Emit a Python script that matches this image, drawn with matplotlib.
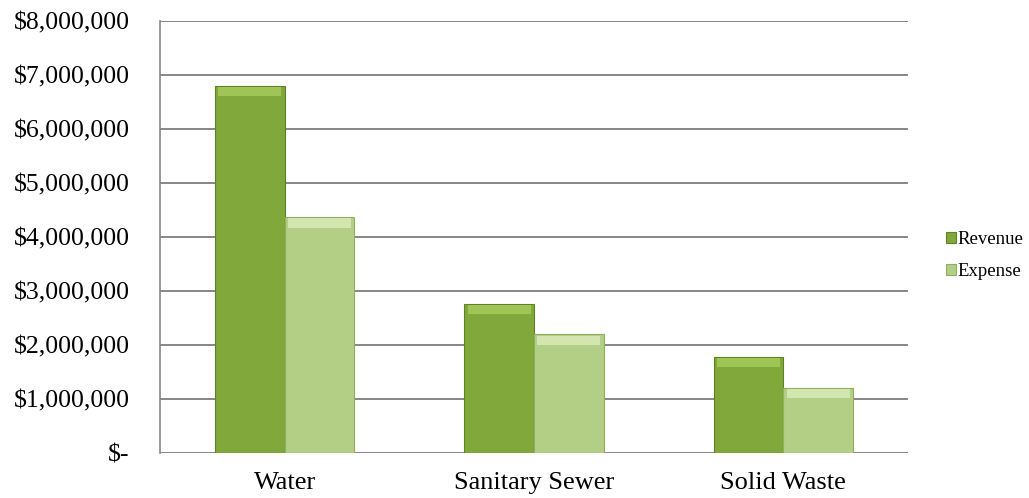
import numpy as np
import matplotlib.pyplot as plt
from matplotlib.ticker import FuncFormatter

# Revenue vs expense by utility fund
categories = ["Water", "Sanitary Sewer", "Solid Waste"]
revenue = [6790000, 2760000, 1780000]
expense = [4360000, 2190000, 1200000]
yticks = [0, 1000000, 2000000, 3000000, 4000000, 5000000, 6000000, 7000000, 8000000]

plt.rcParams['font.family'] = ['Liberation Serif', 'DejaVu Serif']

fig = plt.figure(figsize=(10.29, 4.98), dpi=100)
ax = fig.add_axes([0.1555, 0.091, 0.7269, 0.867])

x = np.arange(len(categories))
w = 0.28
b1 = ax.bar(x - w / 2, revenue, w, color="#80a83a", edgecolor="#5f8226", linewidth=0.8,
            label="Revenue", zorder=3)
b2 = ax.bar(x + w / 2, expense, w, color="#b3cf86", edgecolor="#8fae5e", linewidth=0.8,
            label="Expense", zorder=3)

# light bevel strip on top of each bar
for bars, top_col in ((b1, "#a0c455"), (b2, "#d3e6b0")):
    for r in bars:
        h = r.get_height()
        ax.bar(r.get_x() + r.get_width() / 2, 170000, r.get_width() * 0.9,
               bottom=h - 190000, color=top_col, linewidth=0, zorder=4)

ax.set_xlim(-0.5, len(categories) - 0.5)
ax.set_ylim(0, 8000000)
ax.set_yticks(yticks)
ax.yaxis.set_major_formatter(FuncFormatter(lambda v, p: "$-" if v == 0 else "${:,.0f}".format(v)))
ax.set_xticks(x)
ax.set_xticklabels(categories)
ax.tick_params(axis="y", labelsize=18.5, length=0, pad=22)
ax.tick_params(axis="x", labelsize=19, length=0, pad=14)

ax.grid(axis="y", color="#868686", linewidth=1.4, zorder=0)
for s in ["top", "right", "bottom"]:
    ax.spines[s].set_visible(False)
ax.spines["left"].set_color("#868686")
ax.spines["left"].set_linewidth(1.2)

fig.legend(handles=[b1, b2], labels=["Revenue", "Expense"], loc="center left",
           bbox_to_anchor=(0.919, 0.487), frameon=False, fontsize=13.5,
           handlelength=0.55, handleheight=0.55, handletextpad=0.1, labelspacing=0.8,
           borderpad=0, borderaxespad=0)

plt.savefig("out.png", dpi=100)
